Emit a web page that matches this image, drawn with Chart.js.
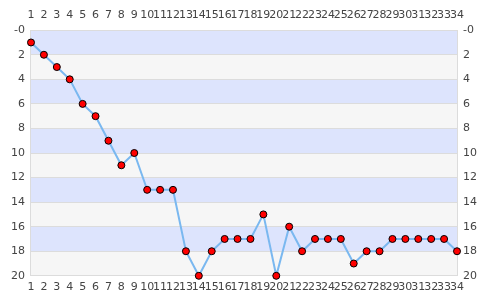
<!DOCTYPE html>
<html><head><meta charset="utf-8">
<script src="https://cdn.jsdelivr.net/npm/chart.js@4"></script>
<style>html,body{margin:0;padding:0;background:#fff}#w{width:485px;height:300px}</style>
</head><body><div id="w"><canvas id="c"></canvas></div>
<script>
const categories = ['1','2','3','4','5','6','7','8','9','10','11','12','13','14','15','16','17','18','19','20','21','22','23','24','25','26','27','28','29','30','31','32','33','34'];
const positions = [1,2,3,4,6,7,9,11,10,13,13,13,18,20,18,17,17,17,15,20,16,18,17,17,17,19,18,18,17,17,17,17,17,18];
const yTicks = [0,2,4,6,8,10,12,14,16,18,20];

const bands = {
  id:'bands',
  beforeDraw(chart){
    const {ctx, chartArea:a, scales:{y}} = chart;
    ctx.save();
    for(let i=0;i<yTicks.length-1;i++){
      const t = y.getPixelForValue(yTicks[i]), b = y.getPixelForValue(yTicks[i+1]);
      ctx.fillStyle = i%2===0 ? '#dde4fd' : '#f6f6f6';
      ctx.fillRect(a.left, Math.min(t,b), a.right-a.left, Math.abs(b-t));
    }
    ctx.restore();
  }
};
const tickFont = {family:'DejaVu Sans', size:11};
const yCb = v => v===0 ? '-0' : String(v);
new Chart(document.getElementById('c'), {
  type:'line',
  data:{labels:categories, datasets:[{data:positions, borderColor:'#7ab8f0', borderWidth:2, pointBackgroundColor:'#ff0000', pointBorderColor:'#000', pointBorderWidth:1, pointRadius:3.5, tension:0, clip:false}]},
  options:{
    responsive:true, maintainAspectRatio:false, animation:false,
    layout:{padding:{left:5,right:2,top:1,bottom:1}},
    plugins:{legend:{display:false}, tooltip:{enabled:false}},
    scales:{
      x:{position:'bottom', offset:false, grid:{display:false, drawTicks:false}, border:{color:'#dcdcdc'}, ticks:{color:'#444', font:tickFont, maxRotation:0, autoSkip:false, padding:5}},
      x2:{position:'top', labels:categories, offset:false, grid:{display:false, drawTicks:false}, border:{color:'#dcdcdc'}, ticks:{color:'#444', font:tickFont, maxRotation:0, autoSkip:false, padding:8}},
      y:{position:'left', reverse:true, min:0, max:20, afterBuildTicks:s=>{s.ticks=yTicks.map(v=>({value:v}));}, grid:{color:'#dcdcdc', drawTicks:false}, border:{color:'#dcdcdc'}, ticks:{color:'#444', font:tickFont, padding:6, callback:yCb}},
      y2:{position:'right', reverse:true, min:0, max:20, afterBuildTicks:s=>{s.ticks=yTicks.map(v=>({value:v}));}, grid:{display:false, drawTicks:false}, border:{color:'#dcdcdc'}, ticks:{color:'#444', font:tickFont, padding:6, callback:yCb}}
    }
  },
  plugins:[bands]
});
</script></body></html>
